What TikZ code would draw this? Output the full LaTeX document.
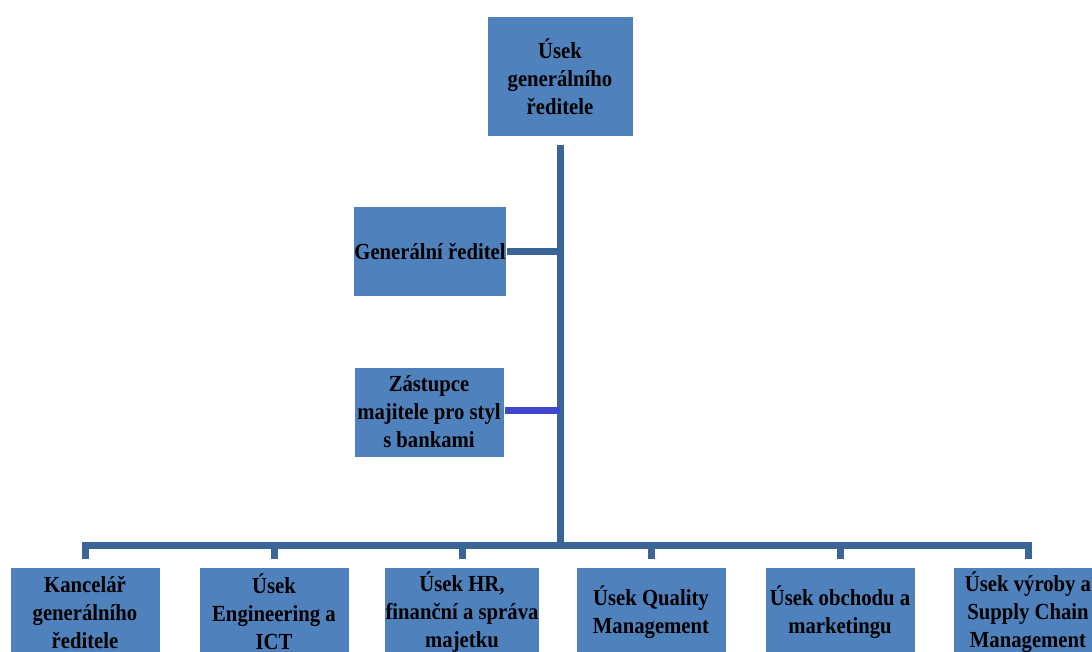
\documentclass[tikz,border=0pt]{standalone}
\usepackage{fontspec}
\setmainfont[FakeStretch=0.9]{Liberation Serif}
\usetikzlibrary{positioning,calc}

\definecolor{boxblue}{HTML}{4F81BD}
\definecolor{lineblue}{HTML}{3B6597}
\definecolor{linkblue}{HTML}{3F48CC}

\tikzset{
  unit/.style={fill=boxblue, draw=white, line width=0.5pt, align=center,
    minimum width=75pt, minimum height=45pt, inner sep=0.5pt,
    font=\bfseries\fontsize{11.5}{14}\selectfont},
  conn/.style={lineblue, line width=3.5pt},
}

\begin{document}
\begin{tikzpicture}[x=0.5pt,y=-0.5pt]
  \useasboundingbox (0,0) rectangle (1092,652);
  \path[clip] (0,0) rectangle (1092,652);

  \node[unit, minimum width=73pt, minimum height=60pt] (top) at (560,77) {Úsek\\generálního\\ředitele};
  \node[unit, minimum width=73.5pt] (gen) at (430,252) {Generální ředitel};
  \node[unit] (zast) at (429,412) {Zástupce\\majitele pro styl\\s bankami};

  \node[unit] (k1) at (85,612) {Kancelář\\generálního\\ředitele};
  \node[unit] (k2) at (274,612) {Úsek\\Engineering a\\ICT};
  \node[unit] (k3) at (462,612) {Úsek HR,\\finanční a správa\\majetku};
  \node[unit] (k4) at (651,612) {Úsek Quality\\Management};
  \node[unit] (k5) at (840,612) {Úsek obchodu a\\marketingu};
  \node[unit] (k6) at (1028,612) {Úsek výroby a\\Supply Chain\\Management};

  \coordinate (bus) at (560,545);

  \draw[conn, shorten <=4pt] (top.south) -- (bus);
  \draw[conn] (gen.east) -- (gen.east -| bus);
  \draw[linkblue, line width=3.5pt] ($(zast.east)+(0,-2)$) -- ($(zast.east -| bus)+(0,-2)$);
  \draw[conn, shorten <=4pt, shorten >=4pt] (k1.north) |- (bus) -| (k6.north);
  \foreach \k in {k2,k3,k4,k5}
    \draw[conn, shorten <=4pt] (\k.north) -- (\k.north |- bus);
\end{tikzpicture}
\end{document}
